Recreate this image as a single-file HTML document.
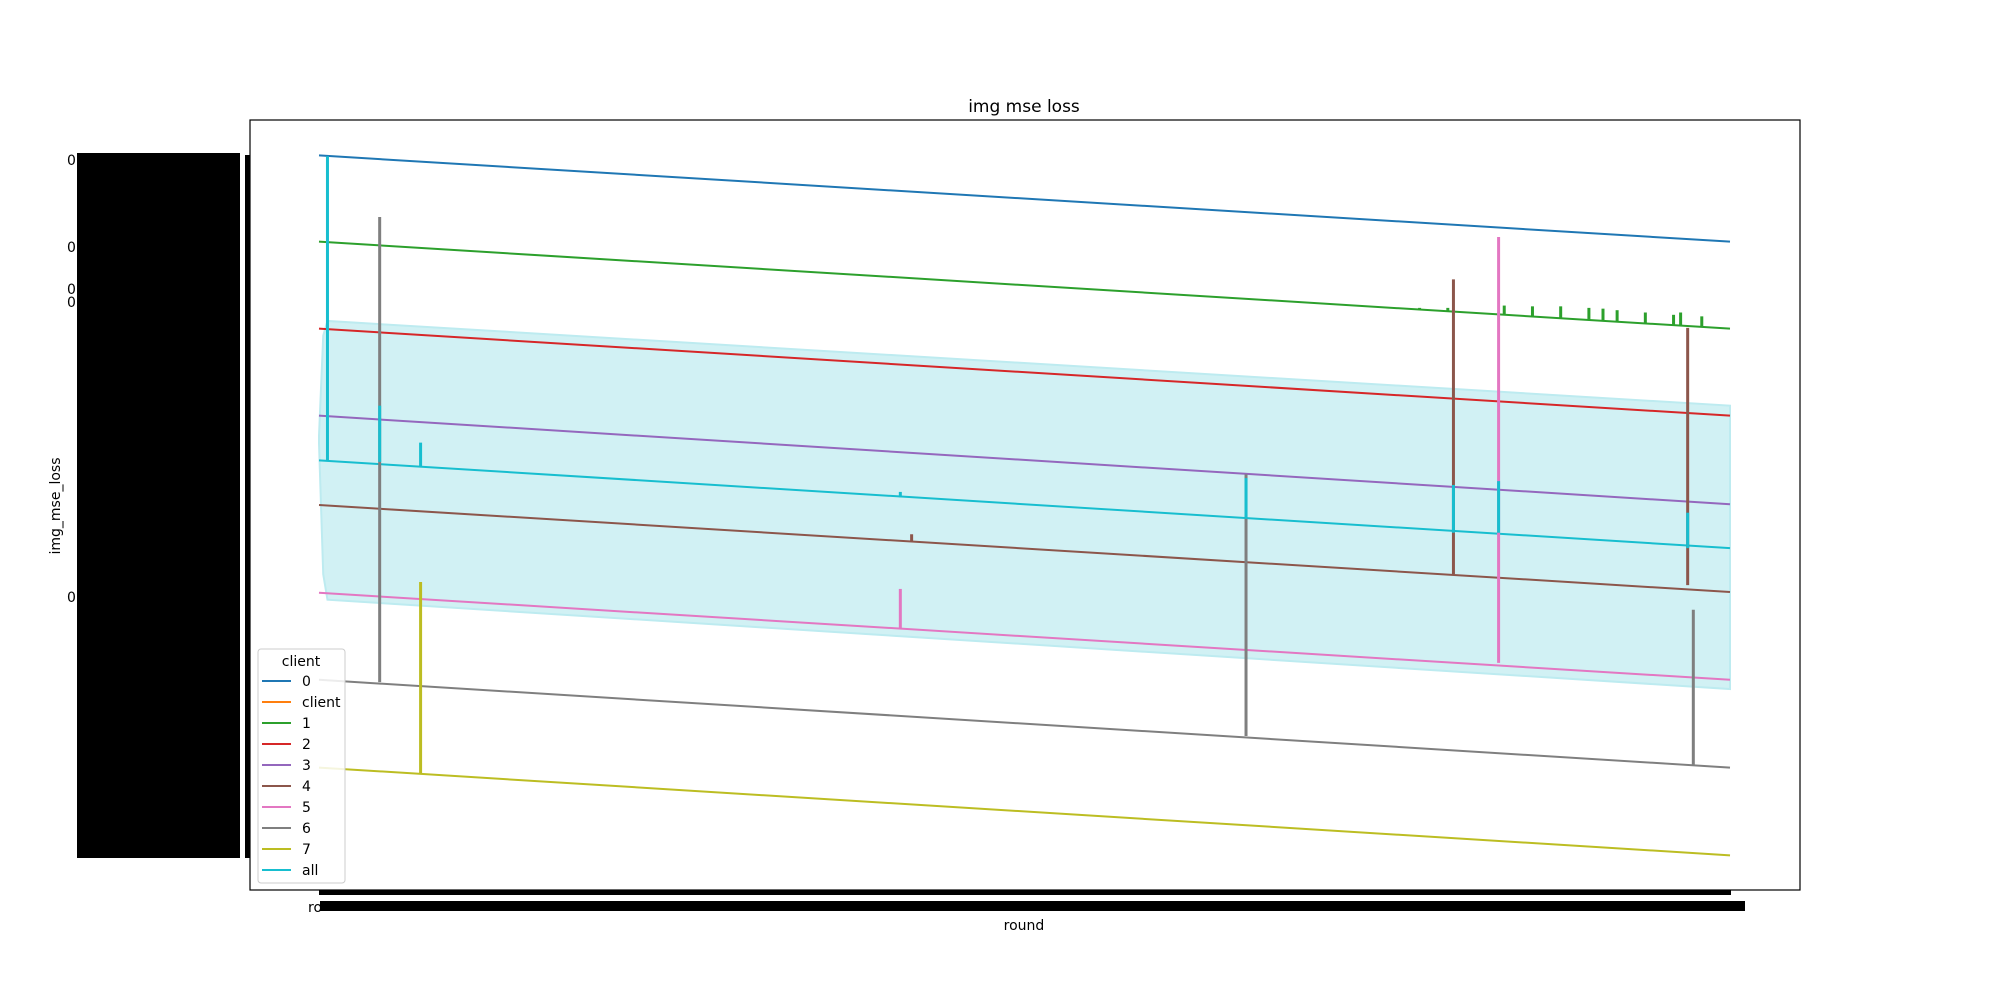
<!DOCTYPE html>
<html><head><meta charset="utf-8"><style>
body{margin:0;background:#fff}
svg{display:block;font-family:"DejaVu Sans","Liberation Sans",sans-serif}
</style></head><body>
<svg id="chart" width="2000" height="1000" viewBox="0 0 2000 1000">
<text x="1024" y="112" font-size="17" text-anchor="middle">img mse loss</text>
<g id="yticks">
<rect x="77" y="153" width="163" height="705" fill="#000"/>
<rect x="245" y="155" width="5" height="703" fill="#000"/>
<text x="67" y="165" font-size="14">0</text>
<text x="67" y="252" font-size="14">0</text>
<text x="67" y="294" font-size="14">0</text>
<text x="67" y="307" font-size="14">0</text>
<text x="67" y="602" font-size="14">0</text>
</g>
<g id="xticks">
<rect x="319" y="890" width="1412" height="5" fill="#000"/>
<rect x="320" y="901" width="1425" height="10" fill="#000"/>
<text x="308" y="912" font-size="14">ro</text>
</g>
<text x="60" y="506" font-size="14" text-anchor="middle" transform="rotate(-90 60 506)">img_mse_loss</text>
<text x="1024" y="930" font-size="14" text-anchor="middle">round</text>
<g id="plot"></g>
<rect x="250" y="120" width="1550" height="770" fill="none" stroke="#000" stroke-width="1.2"/>
<g id="legend">
<rect x="258" y="649" width="87" height="234" rx="3" fill="#fff" fill-opacity="0.85" stroke="#ccc"/>
<text x="301" y="666" font-size="14" text-anchor="middle">client</text>
</g>
</svg>
<script>
const clients = ['0','client','1','2','3','4','5','6','7','all'];
const colors = ['#1f77b4','#ff7f0e','#2ca02c','#d62728','#9467bd','#8c564b','#e377c2','#7f7f7f','#bcbd22','#17becf'];
const lineClients = ['0','1','2','3','4','5','6','7','all'];
const lineStart = [95.4,84.2,72.9,61.6,50.0,38.6,27.3,15.9,55.8];
const lineEnd = [84.2,72.9,61.6,50.1,38.7,27.3,15.9,4.5,44.4];
const bandRounds = [0,3,6,1000];
const bandUpper = [59,72,73.9,62.9];
const bandLower = [58,41,37.7,26.1];
const spikeRound = [6,43,43,72,72,412,420,412,657,657,804,804,836,836,970,974,970,780,800,840,860,880,900,910,920,940,960,965,980];
const spikeTop = [95.3,87.4,62.9,58.1,40.0,51.7,46.2,39.1,54.0,53.5,79.3,52.6,84.8,53.1,73.0,36.4,49.0,75.6,75.6,75.9,75.8,75.8,75.6,75.5,75.3,75.0,74.7,75.0,74.5];
const spikeBottom = [55.8,27.0,55.6,55.0,15.2,51.0,45.3,34.0,20.0,48.2,41.0,46.4,29.5,46.4,39.6,16.2,44.4,75.4,75.2,74.7,74.5,74.3,74.0,73.9,73.8,73.6,73.4,73.3,73.1];
const spikeClient = ['all','6','all','all','7','all','4','5','6','all','4','all','5','all','4','6','all','1','1','1','1','1','1','1','1','1','1','1','1'];
const NS='http://www.w3.org/2000/svg';
const X0=319,X1=1730,Y0=890,Y1=120;
const xs=r=>X0+r/1000*(X1-X0);
const ys=v=>Y0-v/100*(Y0-Y1);
const col=c=>colors[clients.indexOf(c)];
const plot=document.getElementById('plot');
function mk(tag,attrs){const e=document.createElementNS(NS,tag);for(const k in attrs)e.setAttribute(k,attrs[k]);return e;}
let pts=[];
for(let i=0;i<bandRounds.length;i++)pts.push(xs(bandRounds[i])+','+ys(bandUpper[i]));
for(let i=bandRounds.length-1;i>=0;i--)pts.push(xs(bandRounds[i])+','+ys(bandLower[i]));
const band=mk('polygon',{points:pts.join(' '),fill:'#d1f1f4',stroke:'#bdebf0','stroke-width':'2'});


plot.appendChild(band);
for(let i=0;i<lineClients.length;i++){
  const l=mk('line',{x1:xs(0),y1:ys(lineStart[i]),x2:xs(1000),y2:ys(lineEnd[i]),stroke:col(lineClients[i]),'stroke-width':'2'});
  
  
  plot.appendChild(l);
}
for(let i=0;i<spikeRound.length;i++){
  const s=mk('line',{x1:xs(spikeRound[i]),y1:ys(spikeTop[i]),x2:xs(spikeRound[i]),y2:ys(spikeBottom[i]),stroke:col(spikeClient[i]),'stroke-width':'3'});
  
  
  plot.appendChild(s);
}
const lg=document.getElementById('legend');
for(let i=0;i<clients.length;i++){
  const y=681+i*21;
  const g=mk('g',{});
  
  
  g.appendChild(mk('line',{x1:262,y1:y,x2:291,y2:y,stroke:colors[i],'stroke-width':'2'}));
  const t=mk('text',{x:302,y:y+5,'font-size':'14'});t.textContent=clients[i];g.appendChild(t);
  lg.appendChild(g);
}
</script>
</body></html>
